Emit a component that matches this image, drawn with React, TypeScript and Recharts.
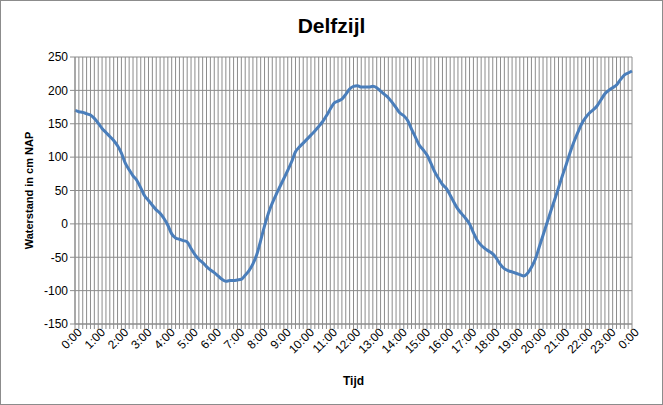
import React from "react";
import {
  LineChart,
  Line,
  XAxis,
  YAxis,
  CartesianGrid,
  Label,
} from "recharts";

// tijdstippen per 10 minuten, 0:00 t/m 0:00 (volgende dag)
const TIJDEN: string[] = [];
for (let h = 0; h < 24; h++) {
  for (let m = 0; m < 60; m += 10) {
    TIJDEN.push(`${h}:${m === 0 ? "00" : m}`);
  }
}
TIJDEN.push("0:00");

const WATERSTAND = [
  170, 168, 167, 165, 163, 158, 151, 143, 137, 131, 125, 117, 106, 91, 81, 72,
  65, 54, 42, 35, 28, 21, 16, 8, -2, -15, -21, -23, -25, -27, -37, -46, -53,
  -58, -64, -69, -73, -78, -83, -86, -85, -85, -84, -83, -77, -70, -60, -46,
  -25, -3, 16, 31, 44, 56, 68, 80, 93, 108, 115, 121, 127, 133, 139, 146, 153,
  162, 172, 181, 184, 187, 194, 202, 206, 207, 205, 205, 205, 206, 204, 199,
  194, 189, 182, 174, 166, 162, 155, 142, 130, 118, 111, 103, 91, 78, 68, 59,
  53, 43, 32, 22, 15, 8, 0, -13, -25, -32, -37, -41, -45, -52, -61, -67, -70,
  -72, -74, -76, -78, -74, -65, -53, -35, -17, 1, 19, 36, 54, 72, 89, 107, 123,
  137, 150, 159, 166, 171, 177, 186, 195, 200, 204, 208, 216, 223, 226, 229,
];

const Y_TICKS = [-150, -100, -50, 0, 50, 100, 150, 200, 250];

const data = TIJDEN.map((tijd, i) => ({ tijd, waterstand: WATERSTAND[i] }));

const FONT = "'Liberation Sans', Arial, sans-serif";
const GRID = "#8c8c8c";

const TijdTick = ({ x, y, payload, index }: any) => {
  if (index % 6 !== 0) return null;
  return (
    <g transform={`translate(${x},${y})`}>
      <text
        x={4}
        y={7}
        textAnchor="end"
        transform="rotate(-45)"
        fontSize={12}
        fontFamily={FONT}
        fill="#000"
      >
        {payload.value}
      </text>
    </g>
  );
};

const App = () => {
  return (
    <div
      style={{
        position: "absolute",
        left: 0,
        top: 0,
        width: 661,
        height: 403,
        border: `1px solid ${GRID}`,
        background: "#fff",
        fontFamily: FONT,
      }}
    >
      <div
        style={{
          position: "absolute",
          top: 13,
          width: "100%",
          textAlign: "center",
          fontSize: 21,
          fontWeight: "bold",
        }}
      >
        Delfzijl
      </div>
      <LineChart
        width={661}
        height={403}
        data={data}
        margin={{ top: 56, right: 30, bottom: 24, left: 34 }}
      >
        <CartesianGrid stroke={GRID} strokeWidth={1} />
        <XAxis
          dataKey="tijd"
          interval={0}
          tick={<TijdTick />}
          tickSize={5}
          stroke={GRID}
          height={56}
        >
          <Label
            value="Tijd"
            position="insideBottom"
            offset={-5}
            style={{ fontSize: 12, fontWeight: "bold", fill: "#000", fontFamily: FONT }}
          />
        </XAxis>
        <YAxis
          domain={[-150, 250]}
          ticks={Y_TICKS}
          interval={0}
          width={40}
          tickSize={5}
          stroke={GRID}
          tick={{ fontSize: 12, fill: "#000", fontFamily: FONT }}
        >
          <Label
            value="Waterstand in cm NAP"
            angle={-90}
            position="insideLeft"
            offset={-6}
            style={{
              fontSize: 11,
              fontWeight: "bold",
              fill: "#000",
              fontFamily: FONT,
              textAnchor: "middle",
            }}
          />
        </YAxis>
        <Line
          type="monotone"
          dataKey="waterstand"
          stroke="#4a7ebb"
          strokeWidth={3}
          dot={false}
          isAnimationActive={false}
        />
      </LineChart>
    </div>
  );
};

export default App;
